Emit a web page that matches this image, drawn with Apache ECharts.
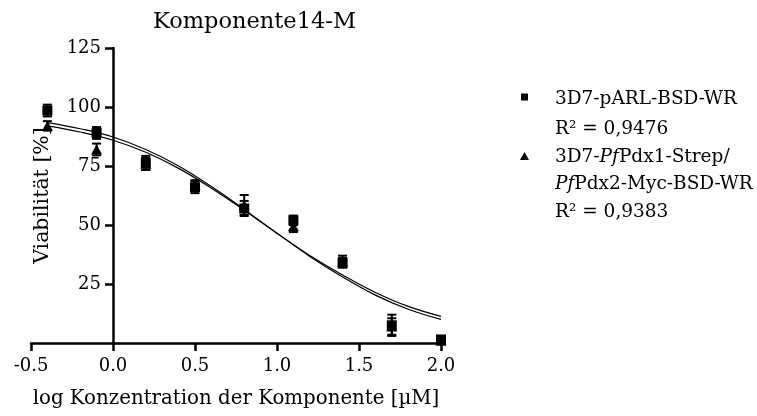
<!DOCTYPE html>
<html>
<head>
<meta charset="utf-8">
<script src="https://cdn.jsdelivr.net/npm/echarts@6/dist/echarts.min.js"></script>
<style>
html,body{margin:0;padding:0;background:#fff;}
#chart{width:757px;height:416px;}
</style>
</head>
<body>
<div id="chart"></div>
<script>
// ---- data ----
const doseX = [-0.4, -0.1, 0.2, 0.5, 0.8, 1.1, 1.4, 1.7, 2.0];
const squareMean = [98.5, 89, 76.3, 66, 57, 52, 34, 7.5, 1.5];
const squareErr  = [2.5, 2.5, 3, 2.5, 3.2, 2, 2, 4.5, 1];
const triMean    = [92, 82, 76, 67, 58.5, 49.5, 34.5, 7, 1];
const triErr     = [2, 2.5, 2.5, 2, 4.2, 2.5, 2.5, 3.5, 1];

const curveX  = [-0.4, -0.2, 0.0, 0.2, 0.4, 0.6, 0.8, 1.0, 1.2, 1.4, 1.6, 1.8, 2.0];
const curveSq = [93.4, 90.8, 87.3, 82, 75, 66.3, 56.6, 46.5, 37.1, 28.8, 21.4, 15.5, 11.3];
const curveTr = [92, 89.4, 85.9, 80.8, 74, 65.6, 56.3, 46.5, 36.7, 28, 20.3, 14.3, 10];

const xTicks = {min: -0.5, max: 2.0, interval: 0.5};
const yTicks = {min: 0, max: 125, interval: 25};

const titleText = 'Komponente14-M';
const xName = 'log Konzentration der Komponente [µM]';
const yName = 'Viabilität [%]';
const seriesNames = ['3D7-pARL-BSD-WR', '3D7-PfPdx1-Strep/PfPdx2-Myc-BSD-WR'];
const r2Values = ['0,9476', '0,9383'];

// ---- build ----
const FONT = 'DejaVu Serif';
const zip = (xs, ys) => xs.map((x, i) => [x, ys[i]]);
const errData = (ys, es) => doseX.map((x, i) => [x, ys[i] - es[i], ys[i] + es[i]]);

const gridLeft = 31, gridRight = 316, W = 757;
// y axis sits at x = 0 of the x axis
const yAxisShift = -(0 - xTicks.min) / (xTicks.max - xTicks.min) * (W - gridLeft - gridRight);

function errorBarRender(params, api) {
  const x = api.value(0);
  const lo = api.coord([x, api.value(1)]);
  const hi = api.coord([x, api.value(2)]);
  const half = 4.5;
  const st = {stroke: '#000', lineWidth: 2};
  return {
    type: 'group',
    children: [
      {type: 'line', shape: {x1: lo[0], y1: lo[1], x2: hi[0], y2: hi[1]}, style: st},
      {type: 'line', shape: {x1: lo[0] - half, y1: lo[1], x2: lo[0] + half, y2: lo[1]}, style: st},
      {type: 'line', shape: {x1: hi[0] - half, y1: hi[1], x2: hi[0] + half, y2: hi[1]}, style: st}
    ]
  };
}

const chart = echarts.init(document.getElementById('chart'), null, {renderer: 'canvas'});

const legendX = 555, legendY0 = 97, lh = 27.5;
const option = {
  backgroundColor: '#fff',
  animation: false,
  title: {
    text: titleText,
    left: 148, top: 6,
    textStyle: {fontFamily: FONT, fontSize: 22.5, fontWeight: 'normal', color: '#000'}
  },
  grid: {left: gridLeft, right: gridRight, top: 48, bottom: 73, containLabel: false, outerBoundsMode: 'none'},
  xAxis: {
    type: 'value',
    min: xTicks.min, max: xTicks.max, interval: xTicks.interval,
    name: xName, nameLocation: 'middle', nameGap: 46,
    nameTextStyle: {fontFamily: FONT, fontSize: 19.8, color: '#000'},
    axisLine: {show: true, onZero: false, lineStyle: {color: '#000', width: 2.5}},
    axisTick: {show: true, inside: false, length: 8, lineStyle: {color: '#000', width: 2.5}},
    axisLabel: {fontFamily: FONT, fontSize: 18, color: '#000', margin: 14,
      formatter: v => v.toFixed(1)},
    splitLine: {show: false}
  },
  yAxis: {
    type: 'value',
    min: yTicks.min, max: yTicks.max, interval: yTicks.interval,
    offset: yAxisShift,
    name: yName, nameLocation: 'middle', nameGap: 60, nameRotate: 90,
    nameTextStyle: {fontFamily: FONT, fontSize: 20.5, color: '#000'},
    axisLine: {show: true, onZero: false, lineStyle: {color: '#000', width: 2.5}},
    axisTick: {show: true, inside: false, length: 8, lineStyle: {color: '#000', width: 2.5}},
    axisLabel: {fontFamily: FONT, fontSize: 18, color: '#000', margin: 12, showMinLabel: false},
    splitLine: {show: false}
  },
  series: [
    {
      name: 'fit-sq', type: 'line', smooth: 0.4, showSymbol: false, silent: true,
      data: zip(curveX, curveSq), lineStyle: {color: '#000', width: 1.2}, z: 2
    },
    {
      name: 'fit-tr', type: 'line', smooth: 0.4, showSymbol: false, silent: true,
      data: zip(curveX, curveTr), lineStyle: {color: '#000', width: 1.2}, z: 2
    },
    {
      name: 'err-sq', type: 'custom', renderItem: errorBarRender,
      data: errData(squareMean, squareErr), encode: {x: 0, y: [1, 2]}, z: 3
    },
    {
      name: 'err-tr', type: 'custom', renderItem: errorBarRender,
      data: errData(triMean, triErr), encode: {x: 0, y: [1, 2]}, z: 3
    },
    {
      name: seriesNames[0], type: 'scatter', symbol: 'rect', symbolSize: 10,
      data: zip(doseX, squareMean), itemStyle: {color: '#000', opacity: 1}, z: 4
    },
    {
      name: seriesNames[1], type: 'scatter', symbol: 'triangle', symbolSize: [11, 10],
      data: zip(doseX, triMean), itemStyle: {color: '#000', opacity: 1}, z: 4
    }
  ],
  graphic: [
    {type: 'rect', shape: {x: 521, y: legendY0 - 3.5, width: 7, height: 7}, style: {fill: '#000'}},
    {type: 'polygon', shape: {points: [[524.5, 152], [529, 160], [520, 160]]}, style: {fill: '#000'}},
    {
      type: 'text', left: legendX, top: legendY0 - 13,
      style: {
        text: seriesNames[0] + '\nR² = ' + r2Values[0],
        fontFamily: FONT, fontSize: 18.5, fill: '#000', lineHeight: 30
      }
    },
    {
      type: 'text', left: legendX, top: 156 - 13,
      style: {
        text: '3D7-{i|Pf}Pdx1-Strep/\n{i|Pf}Pdx2-Myc-BSD-WR\nR² = ' + r2Values[1],
        fontFamily: FONT, fontSize: 18.5, fill: '#000', lineHeight: lh,
        rich: {i: {fontFamily: FONT, fontStyle: 'italic', fontSize: 18.5, lineHeight: lh}}
      }
    }
  ]
};
chart.setOption(option);
</script>
</body>
</html>
